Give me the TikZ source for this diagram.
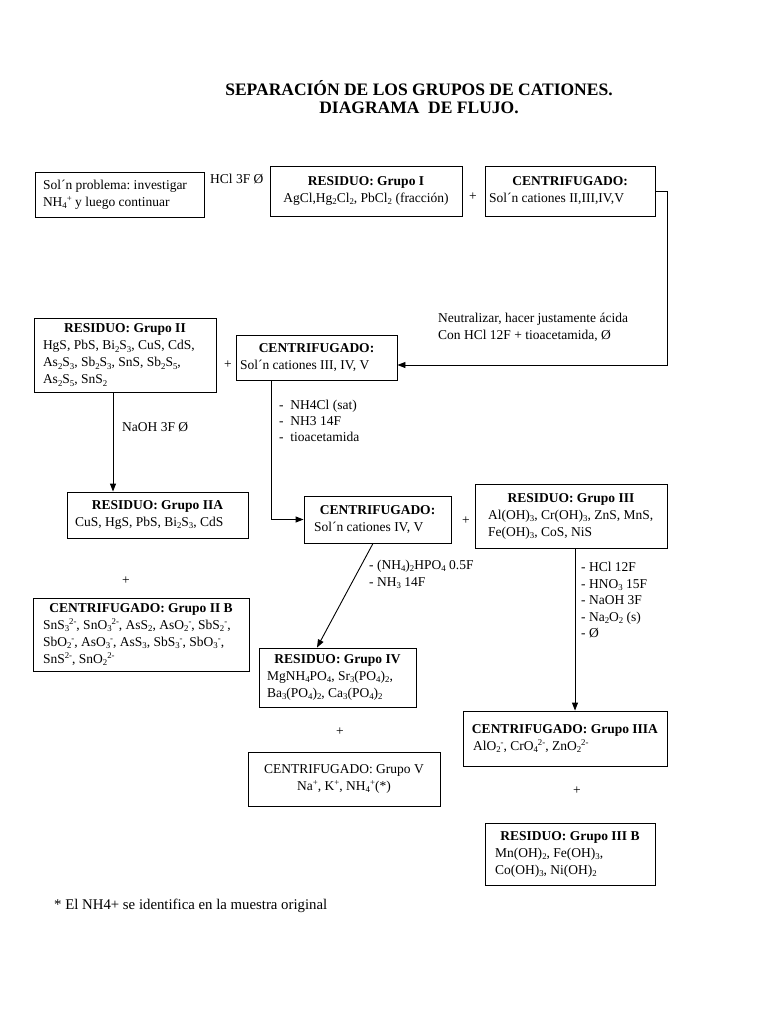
\documentclass[tikz,border=0pt]{standalone}
\usepackage{fontspec}
\setmainfont{Liberation Serif}
\usetikzlibrary{arrows.meta}
\frenchspacing
\newcommand\sbs[1]{\raisebox{-0.35ex}{\fontsize{8.8}{9}\selectfont #1}}
\newcommand\sps[1]{\raisebox{0.75ex}{\fontsize{8.8}{9}\selectfont #1}}
\newcommand\hd[1]{\makebox[\linewidth]{\bfseries #1}}
\newcommand\nb[1]{\mbox{#1}}
\begin{document}
\begin{tikzpicture}[x=1pt,y=-1pt,
  every node/.style={font=\fontsize{13.5}{17}\selectfont},
  box/.style={draw, line width=0.9pt, align=flush left, inner ysep=2pt},
  lbl/.style={anchor=west, align=flush left, inner sep=0pt},
  plus/.style={inner sep=0pt},
  arr/.style={line width=0.9pt, -{Triangle[length=8pt,width=6pt]}}]

\useasboundingbox (0,0) rectangle (768,1024);

\node[font=\fontsize{17.5}{18.5}\selectfont\bfseries, align=center] (title) at (419,97)
  {SEPARACIÓN DE LOS GRUPOS DE CATIONES.\\DIAGRAMA\ \ DE FLUJO.};

% boxes
\node[box, text width=153pt, inner xsep=8pt, minimum height=45pt] (sol) at (119.5,194.5)
  {\nb{Sol´n problema: investigar}\\\nb{NH\sbs{4}\sps{+} y luego continuar}};
\node[box, align=flush center, text width=184pt, inner xsep=4pt, minimum height=50pt] (g1) at (366,191)
  {\textbf{RESIDUO: Grupo I}\\\nb{AgCl,Hg\sbs{2}Cl\sbs{2}, PbCl\sbs{2} (fracción)}};
\node[box, text width=162pt, inner xsep=4pt, minimum height=50pt] (c1) at (570,191)
  {\hd{CENTRIFUGADO:}\\\nb{Sol´n cationes II,III,IV,V}};
\node[box, text width=164pt, inner xsep=9pt, minimum height=74pt] (g2) at (125,355)
  {\hd{RESIDUO: Grupo II}\\\nb{HgS, PbS, Bi\sbs{2}S\sbs{3}, CuS, CdS,}\\\nb{As\sbs{2}S\sbs{3}, Sb\sbs{2}S\sbs{3}, SnS, Sb\sbs{2}S\sbs{5},}\\\nb{As\sbs{2}S\sbs{5}, SnS\sbs{2}}};
\node[box, text width=153pt, inner xsep=4pt, minimum height=45pt] (c2) at (316.5,357.5)
  {\hd{CENTRIFUGADO:}\\\nb{Sol´n cationes III, IV, V}};
\node[box, text width=165pt, inner xsep=8pt, minimum height=46pt] (g2a) at (157.5,515)
  {\hd{RESIDUO: Grupo IIA}\\\nb{CuS, HgS, PbS, Bi\sbs{2}S\sbs{3}, CdS}};
\node[box, text width=196pt, inner xsep=10pt, minimum height=73pt] (c2b) at (141,634.5)
  {\hd{CENTRIFUGADO: Grupo II B}\\\nb{SnS\sbs{3}\sps{2-}, SnO\sbs{3}\sps{2-}, AsS\sbs{2}, AsO\sbs{2}\sps{-}, SbS\sbs{2}\sps{-},}\\\nb{SbO\sbs{2}\sps{-}, AsO\sbs{3}\sps{-}, AsS\sbs{3}, SbS\sbs{3}\sps{-}, SbO\sbs{3}\sps{-},}\\\nb{SnS\sps{2-}, SnO\sbs{2}\sps{2-}}};
\node[box, text width=127pt, inner xsep=10pt, minimum height=47pt] (c3) at (377.5,519.5)
  {\hd{CENTRIFUGADO:}\\\nb{Sol´n cationes IV, V}};
\node[box, text width=166pt, inner xsep=13pt, minimum height=64pt] (g3) at (571,516)
  {\hd{RESIDUO: Grupo III}\\\nb{Al(OH)\sbs{3}, Cr(OH)\sbs{3}, ZnS, MnS,}\\\nb{Fe(OH)\sbs{3}, CoS, NiS}};
\node[box, text width=141pt, inner xsep=8pt, minimum height=59pt] (g4) at (337.5,677.5)
  {\hd{RESIDUO: Grupo IV}\\\nb{MgNH\sbs{4}PO\sbs{4}, Sr\sbs{3}(PO\sbs{4})\sbs{2},}\\\nb{Ba\sbs{3}(PO\sbs{4})\sbs{2}, Ca\sbs{3}(PO\sbs{4})\sbs{2}}};
\node[box, align=flush center, text width=184pt, inner xsep=4pt, minimum height=54pt] (c5) at (344,779)
  {CENTRIFUGADO: Grupo V\\\nb{Na\sps{+}, K\sps{+}, NH\sbs{4}\sps{+}(*)}};
\node[box, text width=184pt, inner xsep=10pt, minimum height=55pt] (c3a) at (565,738.5)
  {\hd{CENTRIFUGADO: Grupo IIIA}\\\nb{AlO\sbs{2}\sps{-}, CrO\sbs{4}\sps{2-}, ZnO\sbs{2}\sps{2-}}};
\node[box, text width=150pt, inner xsep=10pt, minimum height=62pt] (g3b) at (570,854)
  {\hd{RESIDUO: Grupo III B}\\\nb{Mn(OH)\sbs{2}, Fe(OH)\sbs{3},}\\\nb{Co(OH)\sbs{3}, Ni(OH)\sbs{2}}};

% plus signs
\node[plus] (p1) at (473,197) {+};
\node[plus] (p2) at (228,365) {+};
\node[plus] (p3) at (126,581) {+};
\node[plus] (p4) at (466,521) {+};
\node[plus] (p5) at (340,732) {+};
\node[plus] (p6) at (577,791) {+};

% connectors
\coordinate (k1) at (667,365);
\draw[arr] (c1.east) -| (k1) -- (k1 -| c2.east);
\coordinate (k2) at (113,0);
\draw[arr] (g2.south -| k2) -- (g2a.north -| k2);
\coordinate (k3) at (271,519.5);
\draw[arr] (c2.south -| k3) -- (k3) -- (c3.west);
\coordinate (k4) at (373,0);
\coordinate (k5) at (317,0);
\draw[arr] (c3.south -| k4) -- (g4.north -| k5);
\coordinate (k6) at (575,0);
\draw[arr] (g3.south -| k6) -- (c3a.north -| k6);

% labels
\node[lbl] (hcl) at (210,179) {HCl 3F Ø};
\node[lbl] (neu) at (438,327) {Neutralizar, hacer justamente ácida\\Con HCl 12F + tioacetamida, Ø};
\node[lbl] (naoh) at (122,427) {NaOH 3F Ø};
\node[lbl, font=\fontsize{13.5}{16}\selectfont] (r2) at (279,421) {-\ \ NH4Cl (sat)\\-\ \ NH3 14F\\-\ \ tioacetamida};
\node[lbl] (r3) at (369,574) {- (NH\sbs{4})\sbs{2}HPO\sbs{4} 0.5F\\- NH\sbs{3} 14F};
\node[lbl, font=\fontsize{13.5}{16.5}\selectfont] (r4) at (581,600) {- HCl 12F\\- HNO\sbs{3} 15F\\- NaOH 3F\\- Na\sbs{2}O\sbs{2} (s)\\- Ø};
\node[lbl, font=\fontsize{14.8}{17}\selectfont] (note) at (54,906) {* El NH4+ se identifica en la muestra original};
\end{tikzpicture}
\end{document}
